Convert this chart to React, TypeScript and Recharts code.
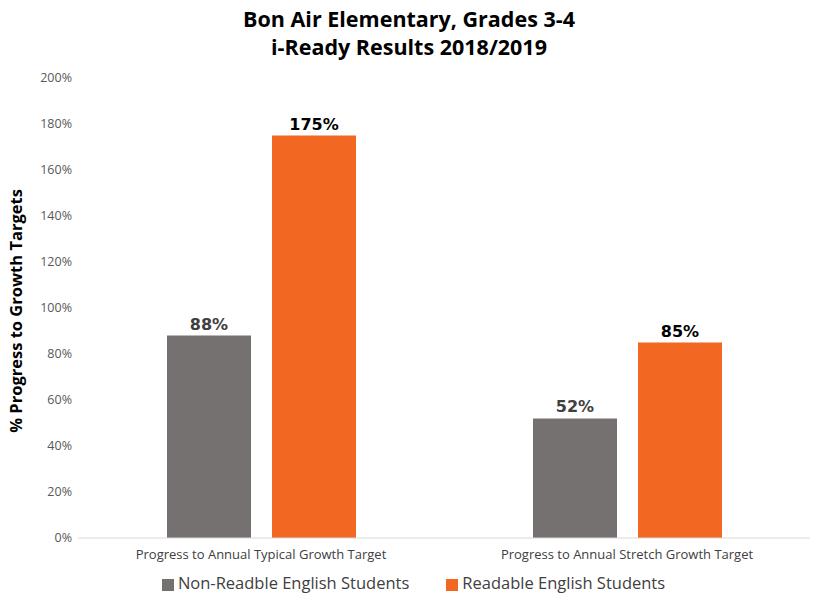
import React from "react";
import { BarChart, Bar, XAxis, YAxis, Legend, LabelList } from "recharts";

const categories = ["Progress to Annual Typical Growth Target", "Progress to Annual Stretch Growth Target"];
const nonReadable = [88, 52];
const readable = [175, 85];
const yTicks = [0, 20, 40, 60, 80, 100, 120, 140, 160, 180, 200];

const data = categories.map((c, i) => ({ name: c, nonReadable: nonReadable[i], readable: readable[i] }));

const FONT = "'Open Sans', sans-serif";

export default function App() {
  return (
    <div style={{ position: "absolute", left: 0, top: 0, width: 818, height: 602, background: "#fff", fontFamily: FONT }}>
      <div style={{ position: "absolute", left: 0, top: 5, width: 818, textAlign: "center", fontWeight: 700, fontSize: 21.5, lineHeight: "28px", color: "#000" }}>
        Bon Air Elementary, Grades 3-4
        <br />
        i-Ready Results 2018/2019
      </div>
      <BarChart
        width={818}
        height={602}
        data={data}
        margin={{ top: 78, right: 8, left: 14, bottom: 11 }}
        barGap={21}
        barSize={84}
      >
        <XAxis
          dataKey="name"
          axisLine={{ stroke: "#d9d9d9" }}
          tickLine={false}
          tick={{ fontSize: 13, fill: "#404040", fontFamily: FONT }}
          height={30}
          tickMargin={6}
        />
        <YAxis
          domain={[0, 200]}
          ticks={yTicks}
          tickFormatter={(v) => `${v}%`}
          axisLine={false}
          tickLine={false}
          width={64}
          tick={{ fontSize: 12.5, fill: "#595959", fontFamily: FONT }}
          tickMargin={0}
          label={{ value: "% Progress to Growth Targets", angle: -90, position: "insideLeft", offset: 0, dx: 2, dy: 3, style: { textAnchor: "middle", fontSize: 16.5, fontWeight: 700, fill: "#000", fontFamily: FONT } }}
        />
        <Legend
          verticalAlign="bottom"
          iconType="square"
          iconSize={12}
          wrapperStyle={{ fontSize: 16.5, fontFamily: FONT, bottom: 8, left: 34 }}
          formatter={(v) => <span style={{ color: "#404040", marginRight: 27 }}>{v}</span>}
        />
        <Bar dataKey="nonReadable" name="Non-Readble English Students" fill="#767171" isAnimationActive={false}>
          <LabelList dataKey="nonReadable" position="top" formatter={(v) => `${v}%`} style={{ fontFamily: "'DejaVu Sans', Verdana, sans-serif", fontWeight: 700, fontSize: 16, fill: "#404040" }} offset={6} />
        </Bar>
        <Bar dataKey="readable" name="Readable English Students" fill="#F26722" isAnimationActive={false}>
          <LabelList dataKey="readable" position="top" formatter={(v) => `${v}%`} style={{ fontFamily: "'DejaVu Sans', Verdana, sans-serif", fontWeight: 700, fontSize: 16, fill: "#000" }} offset={6} />
        </Bar>
      </BarChart>
    </div>
  );
}
